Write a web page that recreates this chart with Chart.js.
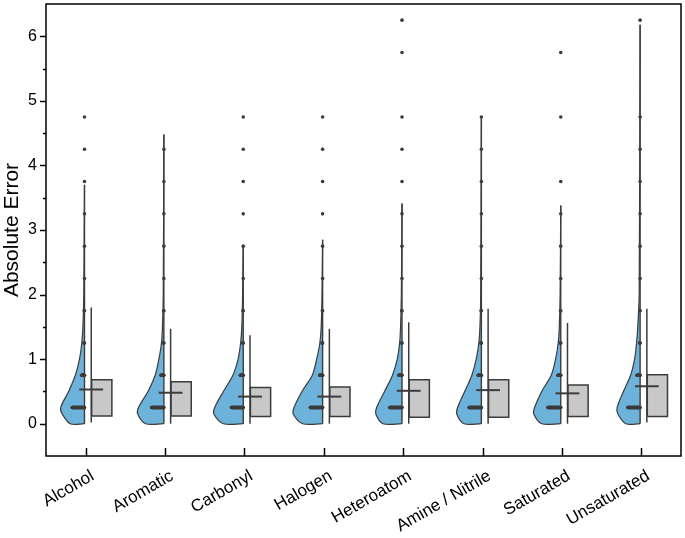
<!DOCTYPE html>
<html>
<head>
<meta charset="utf-8">
<script src="https://cdn.jsdelivr.net/npm/chart.js@4.4.1/dist/chart.umd.min.js"></script>
<style>
  html, body { margin: 0; padding: 0; background: #fff; }
</style>
</head>
<body>
<canvas id="errChart" width="685" height="538"></canvas>
<script>
/* categories + summary stats */
const categories = ['Alcohol', 'Aromatic', 'Carbonyl', 'Halogen', 'Heteroatom', 'Amine / Nitrile', 'Saturated', 'Unsaturated'];
const boxQ1 = [0.12, 0.12, 0.11, 0.11, 0.10, 0.10, 0.11, 0.11];
const boxQ3 = [0.68, 0.65, 0.56, 0.57, 0.68, 0.68, 0.60, 0.76];
const boxMean = [0.53, 0.48, 0.42, 0.42, 0.51, 0.52, 0.47, 0.58];
const whiskerLow = [0.02, 0.0, 0.0, 0.0, 0.0, 0.0, 0.0, 0.02];
const whiskerHigh = [1.80, 1.47, 1.37, 1.47, 1.57, 1.78, 1.56, 1.78];

/* half violin: half-width (category units) at each level, then a top */
const violinLevels = [0, 0.15, 0.25, 0.5, 0.75, 1.0, 1.25, 1.5, 2.0];
const violinWidth = [
  [0.18, 0.28, 0.30, 0.20, 0.115, 0.063, 0.034, 0.020, 0.009],
  [0.23, 0.33, 0.32, 0.20, 0.110, 0.063, 0.030, 0.018, 0.008],
  [0.25, 0.37, 0.36, 0.25, 0.130, 0.065, 0.033, 0.018, 0.008],
  [0.25, 0.37, 0.36, 0.26, 0.130, 0.075, 0.035, 0.018, 0.008],
  [0.24, 0.33, 0.32, 0.22, 0.120, 0.060, 0.030, 0.018, 0.008],
  [0.22, 0.31, 0.30, 0.21, 0.120, 0.065, 0.032, 0.018, 0.008],
  [0.24, 0.34, 0.33, 0.24, 0.120, 0.065, 0.032, 0.018, 0.008],
  [0.18, 0.28, 0.29, 0.21, 0.120, 0.070, 0.045, 0.030, 0.012]
];
const violinMax = [3.70, 4.48, 2.75, 2.85, 3.41, 4.73, 3.38, 6.18];

/* binned data points (bin centres) and how many sit in each bin */
const binValues = [0.25, 0.75, 1.25, 1.75, 2.25, 2.75, 3.25, 3.75, 4.25, 4.75, 5.25, 5.75, 6.25];
const binCounts = [
  [48, 12, 3, 2, 1, 1, 1, 1, 1, 1, 0, 0, 0],
  [48, 12, 3, 2, 1, 1, 1, 1, 1, 0, 0, 0, 0],
  [46, 12, 3, 2, 1, 1, 1, 1, 1, 1, 0, 0, 0],
  [48, 12, 3, 2, 1, 1, 1, 1, 1, 1, 0, 0, 0],
  [48, 13, 3, 2, 1, 1, 1, 1, 1, 1, 0, 1, 1],
  [48, 13, 3, 2, 1, 1, 1, 1, 1, 1, 0, 0, 0],
  [50, 12, 3, 2, 1, 1, 1, 1, 0, 1, 0, 1, 0],
  [48, 13, 3, 2, 1, 1, 1, 1, 1, 1, 0, 0, 1]
];

/* axis ticks */
const yTickValues = [0, 1, 2, 3, 4, 5, 6];
const yMinorTicks = [0.5, 1.5, 2.5, 3.5, 4.5, 5.5];

const BLUE = 'rgb(108,178,218)';
const DARK = '#3c3c3c';
const GREY = '#c8c8c8';

const datasets = [];
const dots = [];

categories.forEach((name, i) => {
  const c = i - 0.015;          // violin spine
  const wx = i + 0.07;          // whisker / box left edge
  const bl = i + 0.075, br = i + 0.33;

  const shape = [{ x: c, y: 0 }];
  violinLevels.forEach((lv, k) => shape.push({ x: c - violinWidth[i][k], y: lv }));
  shape.push({ x: c, y: violinMax[i] });
  datasets.push({
    type: 'line', data: shape, fill: 'shape', tension: 0.3,
    backgroundColor: BLUE, borderColor: DARK, borderWidth: 1.2,
    pointRadius: 0, order: 6
  });
  datasets.push({
    type: 'line', data: [{ x: c, y: 0 }, { x: c, y: violinMax[i] }],
    borderColor: DARK, borderWidth: 1.4, pointRadius: 0, fill: false, order: 5
  });

  datasets.push({
    type: 'line',
    data: [{ x: bl, y: boxQ1[i] }, { x: br, y: boxQ1[i] }, { x: br, y: boxQ3[i] }, { x: bl, y: boxQ3[i] }, { x: bl, y: boxQ1[i] }],
    fill: 'shape', tension: 0, backgroundColor: GREY, borderColor: DARK, borderWidth: 1.5,
    pointRadius: 0, order: 4
  });
  datasets.push({
    type: 'line', data: [{ x: wx, y: whiskerLow[i] }, { x: wx, y: whiskerHigh[i] }],
    borderColor: DARK, borderWidth: 1.5, pointRadius: 0, fill: false, order: 3
  });
  datasets.push({
    type: 'line', data: [{ x: wx - 0.15, y: boxMean[i] }, { x: wx + 0.15, y: boxMean[i] }],
    borderColor: DARK, borderWidth: 2, pointRadius: 0, fill: false, order: 2
  });

  binValues.forEach((v, b) => {
    for (let j = 0; j < binCounts[i][b]; j++) dots.push({ x: c - j * 0.0033, y: v });
  });
});

datasets.push({
  type: 'scatter', data: dots, pointRadius: 1.8, pointBackgroundColor: DARK,
  pointBorderWidth: 0, order: 1
});

/* frame + tick marks drawn with the scales */
const frameTicks = {
  id: 'frameTicks',
  afterDatasetsDraw(chart) {
    const { ctx, chartArea: a, scales: { x, y } } = chart;
    ctx.save();
    ctx.strokeStyle = '#000';
    ctx.lineWidth = 1.5;
    ctx.strokeRect(a.left, a.top, a.right - a.left, a.bottom - a.top);
    ctx.beginPath();
    yTickValues.forEach(v => {
      const py = Math.round(y.getPixelForValue(v)) + 0.5;
      ctx.moveTo(a.left - 6, py); ctx.lineTo(a.left, py);
    });
    yMinorTicks.forEach(v => {
      const py = Math.round(y.getPixelForValue(v)) + 0.5;
      ctx.moveTo(a.left - 3, py); ctx.lineTo(a.left, py);
    });
    categories.forEach((_, i) => {
      const px = Math.round(x.getPixelForValue(i)) + 0.5;
      ctx.moveTo(px, a.bottom); ctx.lineTo(px, a.bottom - 8);
    });
    ctx.stroke();
    ctx.restore();
  }
};

const font = 'Liberation Sans, Arial, sans-serif';

new Chart(document.getElementById('errChart'), {
  type: 'scatter',
  data: { datasets },
  options: {
    responsive: false,
    animation: false,
    events: [],
    layout: { padding: { top: 3, right: 2, left: 0, bottom: 0 } },
    plugins: { legend: { display: false }, tooltip: { enabled: false } },
    scales: {
      x: {
        type: 'linear', min: -0.5, max: 7.5,
        afterBuildTicks: s => { s.ticks = categories.map((_, i) => ({ value: i })); },
        afterFit: s => { s.height = 82; s.paddingLeft = 0; s.paddingRight = 0; },
        grid: { display: false, drawTicks: false },
        border: { display: false },
        ticks: {
          autoSkip: false, minRotation: 30, maxRotation: 30, padding: 10, labelOffset: 7,
          color: '#000', font: { family: font, size: 17 },
          callback: v => categories[v] ?? ''
        }
      },
      y: {
        min: -0.5, max: 6.5,
        afterBuildTicks: s => { s.ticks = yTickValues.map(v => ({ value: v })); },
        afterFit: s => { s.width = 46; s.paddingTop = 0; s.paddingBottom = 0; },
        grid: { display: false, drawTicks: false },
        border: { display: false },
        ticks: { padding: 9, color: '#000', font: { family: font, size: 16 } },
        title: {
          display: true, text: 'Absolute Error', color: '#000',
          font: { family: font, size: 21 }, padding: { top: 0, bottom: 0 }
        }
      }
    }
  },
  plugins: [frameTicks]
});
</script>
</body>
</html>
